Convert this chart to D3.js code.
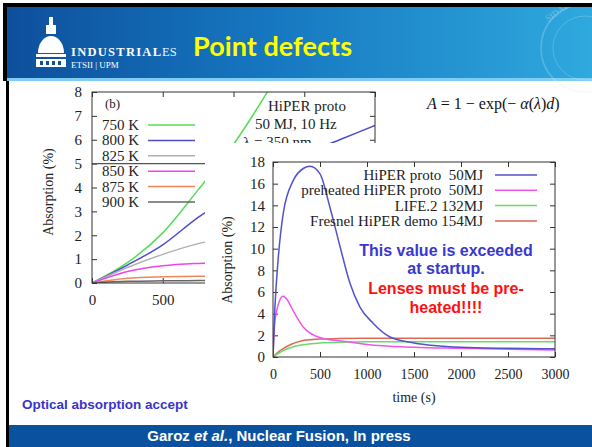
<!DOCTYPE html>
<html><head><meta charset="utf-8">
<script src="https://cdn.jsdelivr.net/npm/d3@7"></script>
<style>body{margin:0;background:#fff}svg{display:block}</style>
</head><body><svg id="c" width="592" height="447"></svg>
<script>
// ---------- data ----------
const leftTimes = [0, 250, 500, 750, 1000, 1250, 1500, 1750, 2000];
const leftLabels = ["750 K", "800 K", "825 K", "850 K", "875 K", "900 K"];
const k750 = [0, 0.85, 2.1, 3.9, 5.8, 8.1, 10.6, 13.0, 15.5];
const k800 = [0, 0.75, 1.6, 2.75, 3.7, 4.6, 5.4, 6.0, 6.6];
const k825 = [0, 0.65, 1.2, 1.65, 1.95, 2.15, 2.3, 2.4, 2.45];
const k850 = [0, 0.48, 0.72, 0.82, 0.86, 0.88, 0.89, 0.9, 0.9];
const k875 = [0, 0.2, 0.26, 0.28, 0.28, 0.28, 0.28, 0.28, 0.28];
const k900 = [0, 0.07, 0.09, 0.1, 0.1, 0.1, 0.1, 0.1, 0.1];
const leftYTicks = [0, 1, 2, 3, 4, 5, 6, 7, 8];
const leftXTicks = [0, 500, 1000, 1500, 2000];
const leftXVisibleLabels = [0, 500];   // the others lie under the inset
const threshold = 5;

const insetLabels = ["HiPER proto\u00a0 50MJ", "preheated HiPER proto\u00a0 50MJ", "LIFE.2 132MJ", "Fresnel HiPER demo 154MJ"];
const hiperT = [0, 20, 50, 110, 216, 322, 394, 500, 606, 713, 819, 925, 1067, 1245, 1500, 2000, 2500, 3000];
const hiperV = [0, 4.5, 8.5, 13.3, 16.3, 17.4, 17.6, 16.9, 13.8, 10.2, 6.8, 4.6, 3.1, 1.85, 1.3, 0.9, 0.8, 0.75];
const preT = [0, 15, 40, 70, 106, 150, 200, 319, 496, 700, 820, 1000, 1500, 2000, 3000];
const preV = [0, 2.8, 4.3, 5.2, 5.6, 5.3, 4.5, 2.8, 1.8, 1.5, 1.38, 1.15, 0.9, 0.8, 0.65];
const lifeT = [0, 50, 100, 200, 300, 400, 500, 700, 1000, 3000];
const lifeV = [0, 0.3, 0.55, 0.9, 1.1, 1.22, 1.3, 1.37, 1.4, 1.4];
const fresT = [0, 50, 100, 200, 300, 400, 500, 700, 1000, 3000];
const fresV = [0, 0.4, 0.72, 1.2, 1.48, 1.6, 1.67, 1.7, 1.72, 1.72];
const insetYTicks = [0, 2, 4, 6, 8, 10, 12, 14, 16, 18];
const insetXTicks = [0, 500, 1000, 1500, 2000, 2500, 3000];

// ---------- setup ----------
const svg = d3.select("#c");
const defs = svg.append("defs");
const grad = defs.append("linearGradient").attr("id", "hdr").attr("x1", "0").attr("x2", "1").attr("y1", "0").attr("y2", "0");
grad.append("stop").attr("offset", "0").attr("stop-color", "#0e4f9c");
grad.append("stop").attr("offset", "0.45").attr("stop-color", "#1677c0");
grad.append("stop").attr("offset", "1").attr("stop-color", "#2fa9de");

svg.append("rect").attr("width", 592).attr("height", 447).attr("fill", "#fff");

// header
svg.append("rect").attr("x", 6).attr("y", 6).attr("width", 586).attr("height", 74).attr("fill", "url(#hdr)");
svg.append("rect").attr("x", 6).attr("y", 78).attr("width", 586).attr("height", 3).attr("fill", "#7fcdf0");
// seal watermark
const seal = svg.append("g").attr("opacity", 0.25).attr("fill", "none").attr("stroke", "#d8f0ff");
seal.append("circle").attr("cx", 585).attr("cy", 48).attr("r", 44).attr("stroke-width", 1.5);
seal.append("circle").attr("cx", 585).attr("cy", 48).attr("r", 32).attr("stroke-width", 1);
svg.append("text").attr("x", 548).attr("y", 22).attr("fill", "#d8f0ff").attr("opacity", 0.35)
  .attr("font-family", "Liberation Serif").attr("font-size", 9).attr("transform", "rotate(-35,548,22)").text("SIDAD");

// logo
const logo = svg.append("g").attr("fill", "#fff");
logo.append("rect").attr("x", 49).attr("y", 17).attr("width", 4).attr("height", 8);
logo.append("rect").attr("x", 46).attr("y", 25).attr("width", 10).attr("height", 9);
logo.append("path").attr("d", "M38,53 A13,17 0 0 1 64,53 Z");
logo.append("rect").attr("x", 36).attr("y", 54).attr("width", 30).attr("height", 3);
logo.append("rect").attr("x", 36).attr("y", 59).attr("width", 30).attr("height", 8);
[40, 46, 52, 58].forEach(x => svg.append("rect").attr("x", x).attr("y", 61).attr("width", 3).attr("height", 4).attr("fill", "#134f93"));
svg.append("text").attr("x", 71).attr("y", 56).attr("fill", "#fff").attr("font-family", "Liberation Serif")
  .attr("font-weight", "bold").attr("font-size", 12.5).attr("textLength", 90).text("INDUSTRIAL");
svg.append("text").attr("x", 162).attr("y", 56).attr("fill", "#e8f4ff").attr("font-family", "Liberation Serif")
  .attr("font-size", 12.5).text("ES");
svg.append("text").attr("x", 71).attr("y", 68).attr("fill", "#fff").attr("font-family", "Liberation Serif")
  .attr("font-size", 9).text("ETSII | UPM");
svg.append("text").attr("x", 193).attr("y", 56).attr("fill", "#ffff00").attr("font-family", "Lato")
  .attr("font-weight", "bold").attr("font-size", 27).attr("textLength", 159).text("Point defects");

// borders
svg.append("rect").attr("x", 3).attr("y", 3).attr("width", 589).attr("height", 4).attr("fill", "#000");
svg.append("rect").attr("x", 3).attr("y", 3).attr("width", 4).attr("height", 78).attr("fill", "#000");
svg.append("rect").attr("x", 6).attr("y", 81).attr("width", 3).attr("height", 366).attr("fill", "#000");

// formula
const f = svg.append("text").attr("x", 427).attr("y", 109).attr("font-family", "Liberation Serif").attr("font-size", 16).attr("fill", "#111");
f.append("tspan").attr("font-style", "italic").text("A");
f.append("tspan").text(" = 1 \u2212 exp(\u2212 ");
f.append("tspan").attr("font-style", "italic").text("\u03b1");
f.append("tspan").text("(");
f.append("tspan").attr("font-style", "italic").text("\u03bb");
f.append("tspan").text(")");
f.append("tspan").attr("font-style", "italic").text("d");
f.append("tspan").text(")");

// ---------- left chart ----------
const serif = "Liberation Serif";
const fmt = d3.format("d");
const xL = d3.scaleLinear().domain([0, 2000]).range([92, 375]);
const yL = d3.scaleLinear().domain([0, 8]).range([283, 92]);
defs.append("clipPath").attr("id", "clipL").append("rect").attr("x", 92).attr("y", 92).attr("width", 283).attr("height", 191);

function styleAxis(g, fs) {
  g.selectAll("text").attr("font-family", serif).attr("font-size", fs).attr("fill", "#222");
  g.selectAll("line").attr("stroke", "#333");
  g.select(".domain").remove();
}
svg.append("g").attr("transform", "translate(92,0)")
  .call(d3.axisLeft(yL).tickValues(leftYTicks).tickFormat(fmt).tickSizeInner(-5).tickSizeOuter(0).tickPadding(10))
  .call(g => styleAxis(g, 15));
svg.append("g").attr("transform", "translate(375,0)")
  .call(d3.axisRight(yL).tickValues(leftYTicks).tickSizeInner(-5).tickSizeOuter(0).tickFormat(""))
  .call(g => styleAxis(g, 15));
svg.append("g").attr("transform", "translate(0,283)")
  .call(d3.axisBottom(xL).tickValues(leftXVisibleLabels).tickFormat(fmt).tickSizeInner(-5).tickSizeOuter(0).tickPadding(11))
  .call(g => styleAxis(g, 15));
svg.append("g").attr("transform", "translate(0,92)")
  .call(d3.axisTop(xL).tickValues(leftXTicks).tickSizeInner(-5).tickSizeOuter(0).tickFormat(""))
  .call(g => styleAxis(g, 15));

const leftSeries = [k750, k800, k825, k850, k875, k900];
const leftColors = ["#55dd55", "#4b4bd0", "#b0b0b0", "#ee44ee", "#f0875a", "#666666"];
const lineL = d3.line().curve(d3.curveMonotoneX);
const gL = svg.append("g").attr("clip-path", "url(#clipL)");
gL.append("line").attr("x1", xL(0)).attr("x2", xL(2000)).attr("y1", yL(threshold)).attr("y2", yL(threshold))
  .attr("stroke", "#555").attr("stroke-width", 1.3);
leftSeries.forEach((s, i) => {
  gL.append("path").attr("d", lineL(leftTimes.map((t, j) => [xL(t), yL(s[j])])))
    .attr("fill", "none").attr("stroke", leftColors[i]).attr("stroke-width", 1.5);
});
svg.append("rect").attr("x", 92).attr("y", 92).attr("width", 283).attr("height", 191)
  .attr("fill", "none").attr("stroke", "#333").attr("stroke-width", 1);

svg.append("text").attr("x", 105).attr("y", 108).attr("font-family", serif).attr("font-size", 13).attr("fill", "#222").text("(b)");
leftLabels.forEach((lab, i) => {
  const y = 125 + i * 15.4;
  svg.append("text").attr("x", 102).attr("y", y + 5).attr("font-family", serif).attr("font-size", 15).attr("fill", "#222").text(lab);
  svg.append("line").attr("x1", 148).attr("x2", 195).attr("y1", y).attr("y2", y).attr("stroke", leftColors[i]).attr("stroke-width", 1.5);
});
svg.append("text").attr("x", 268).attr("y", 111).attr("font-family", serif).attr("font-size", 15).attr("fill", "#222").text("HiPER proto");
svg.append("text").attr("x", 255).attr("y", 129).attr("font-family", serif).attr("font-size", 15).attr("fill", "#222").text("50 MJ, 10 Hz");
svg.append("text").attr("x", 243).attr("y", 147).attr("font-family", serif).attr("font-size", 15).attr("fill", "#222").text("\u03bb = 350 nm");
svg.append("text").attr("transform", "translate(53,192) rotate(-90)").attr("text-anchor", "middle")
  .attr("font-family", serif).attr("font-size", 14).attr("fill", "#222").text("Absorption (%)");

// bottom note (rest hidden by inset)
svg.append("text").attr("x", 22).attr("y", 409).attr("font-family", "Liberation Sans").attr("font-weight", "bold")
  .attr("font-size", 13.5).attr("fill", "#3535cc").text("Optical absorption accept");

// ---------- inset ----------
svg.append("rect").attr("x", 205).attr("y", 143).attr("width", 387).attr("height", 268).attr("fill", "#fff");
const xI = d3.scaleLinear().domain([0, 3000]).range([273, 555]);
const yI = d3.scaleLinear().domain([0, 18]).range([357, 162]);
defs.append("clipPath").attr("id", "clipI").append("rect").attr("x", 273).attr("y", 162).attr("width", 282).attr("height", 195);
svg.append("g").attr("transform", "translate(273,0)")
  .call(d3.axisLeft(yI).tickValues(insetYTicks).tickFormat(fmt).tickSizeInner(-5).tickSizeOuter(0).tickPadding(8))
  .call(g => styleAxis(g, 15));
svg.append("g").attr("transform", "translate(555,0)")
  .call(d3.axisRight(yI).tickValues(insetYTicks).tickSizeInner(-5).tickSizeOuter(0).tickFormat(""))
  .call(g => styleAxis(g, 15));
svg.append("g").attr("transform", "translate(0,357)")
  .call(d3.axisBottom(xI).tickValues(insetXTicks).tickFormat(fmt).tickSizeInner(-5).tickSizeOuter(0).tickPadding(12))
  .call(g => styleAxis(g, 14));
svg.append("g").attr("transform", "translate(0,162)")
  .call(d3.axisTop(xI).tickValues(insetXTicks).tickSizeInner(-5).tickSizeOuter(0).tickFormat(""))
  .call(g => styleAxis(g, 14));

const insetSeries = [[hiperT, hiperV], [preT, preV], [lifeT, lifeV], [fresT, fresV]];
const insetColors = ["#5252cc", "#ee55ee", "#66dd66", "#dd6655"];
const gI = svg.append("g").attr("clip-path", "url(#clipI)");
[3, 2, 1, 0].forEach(i => {
  const [T, V] = insetSeries[i];
  gI.append("path").attr("d", lineL(T.map((t, j) => [xI(t), yI(V[j])])))
    .attr("fill", "none").attr("stroke", insetColors[i]).attr("stroke-width", 1.5);
});
svg.append("rect").attr("x", 273).attr("y", 162).attr("width", 282).attr("height", 195)
  .attr("fill", "none").attr("stroke", "#333").attr("stroke-width", 1);

insetLabels.forEach((lab, i) => {
  const y = 175 + i * 15.3;
  svg.append("text").attr("x", 483).attr("y", y + 5).attr("text-anchor", "end").attr("font-family", serif)
    .attr("font-size", 15).attr("fill", "#222").text(lab);
  svg.append("line").attr("x1", 495).attr("x2", 537).attr("y1", y).attr("y2", y).attr("stroke", insetColors[i]).attr("stroke-width", 1.5);
});
svg.append("text").attr("transform", "translate(232,260) rotate(-90)").attr("text-anchor", "middle")
  .attr("font-family", serif).attr("font-size", 14).attr("fill", "#222").text("Absorption (%)");
svg.append("text").attr("x", 414).attr("y", 402).attr("text-anchor", "middle")
  .attr("font-family", serif).attr("font-size", 14).attr("fill", "#222").text("time (s)");

const ann = [["This value is exceeded", 256, "#3838d0"], ["at startup.", 274, "#3838d0"], ["Lenses must be pre-", 294, "#ff1010"], ["heated!!!!", 313, "#ff1010"]];
ann.forEach(([t, y, c]) => svg.append("text").attr("x", 446).attr("y", y).attr("text-anchor", "middle")
  .attr("font-family", "Liberation Sans").attr("font-weight", "bold").attr("font-size", 16).attr("fill", c).text(t));

// footer
svg.append("rect").attr("x", 9).attr("y", 425).attr("width", 583).attr("height", 22).attr("fill", "#0a52a0");
const ft = svg.append("text").attr("x", 279).attr("y", 441).attr("text-anchor", "middle").attr("font-family", "Liberation Sans")
  .attr("font-weight", "bold").attr("font-size", 15).attr("fill", "#fff");
ft.append("tspan").text("Garoz ");
ft.append("tspan").attr("font-style", "italic").text("et al.");
ft.append("tspan").text(", Nuclear Fusion, In press");
</script></body></html>
